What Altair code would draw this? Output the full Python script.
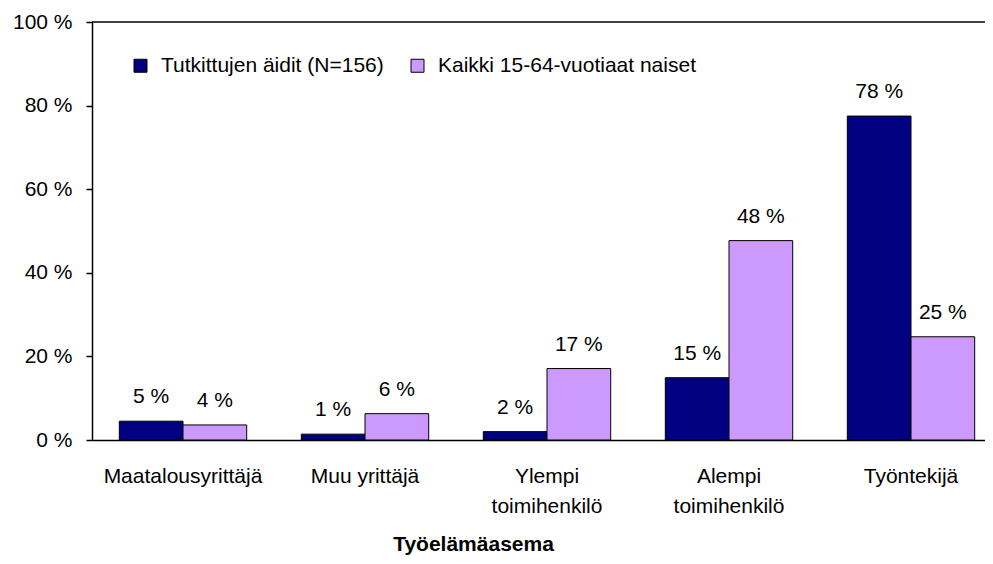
import altair as alt
import pandas as pd

categories = ["Maatalousyrittäjä", "Muu yrittäjä", "Ylempi toimihenkilö",
              "Alempi toimihenkilö", "Työntekijä"]
series = ["Tutkittujen äidit (N=156)", "Kaikki 15-64-vuotiaat naiset"]
mothers = [4.5, 1.4, 2.0, 14.9, 77.5]
all_women = [3.6, 6.3, 17.1, 47.7, 24.7]
y_ticks = [0, 20, 40, 60, 80, 100]
colors = ["#000080", "#CC99FF"]

rows = []
for c, a, b in zip(categories, mothers, all_women):
    rows.append({"category": c, "series": series[0], "value": a})
    rows.append({"category": c, "series": series[1], "value": b})
df = pd.DataFrame(rows)

FONT = "Liberation Sans"
FS = 21

x_enc = alt.X(
    "category:N", sort=categories,
    scale=alt.Scale(range=[0, 910], paddingInner=0.3, paddingOuter=0.15),
    axis=alt.Axis(
        title="Työelämäasema", titleFontWeight="bold", titleFontSize=FS,
        titleFont=FONT, titleColor="black",
        titleX=381, titleY=110, titleAlign="center", titleBaseline="alphabetic",
        labelExpr="indexof(datum.label, 'toimihenkilö') >= 0 ? split(datum.label, ' ') : datum.label",
        labelAngle=0, labelPadding=25, labelLineHeight=30, ticks=False, tickSize=0,
        labelBaseline="top", labelLimit=300, domainWidth=1.5,
    ),
)
xoff_enc = alt.XOffset("series:N", sort=series,
                       scale=alt.Scale(domain=series, paddingInner=0, paddingOuter=0))
y_enc = alt.Y(
    "value:Q",
    scale=alt.Scale(domain=[0, 100], nice=False),
    axis=alt.Axis(values=y_ticks, labelExpr="datum.value + ' %'", grid=False,
                  title=None, tickSize=6, labelPadding=14, domainWidth=1.5,
                  tickWidth=1.5),
)

base = alt.Chart(df)

bars = base.mark_bar(stroke="black", strokeWidth=1).encode(
    x=x_enc, xOffset=xoff_enc, y=y_enc,
    color=alt.Color(
        "series:N", sort=series,
        scale=alt.Scale(domain=series, range=colors),
        legend=alt.Legend(
            title=None, orient="none", legendX=38, legendY=33,
            direction="horizontal", symbolType="square", symbolSize=169,
            symbolStrokeColor="black", symbolStrokeWidth=1, symbolOpacity=1,
            labelFontSize=FS, labelFont=FONT, labelColor="black",
            labelOffset=10, columnPadding=23, labelLimit=400,
        ),
    ),
)

labels = base.transform_calculate(
    label="format(datum.value, '.0f') + ' %'"
).mark_text(baseline="alphabetic", dy=-18, fontSize=FS, font=FONT, color="black").encode(
    x=x_enc, xOffset=xoff_enc, y=y_enc, text="label:N"
)

top_line = alt.Chart(pd.DataFrame({"v": [100]})).mark_rule(
    color="black", strokeWidth=1.5
).encode(y=alt.Y("v:Q"), x=alt.value(0), x2=alt.value(910))

chart = alt.layer(bars, labels, top_line).properties(
    width=893, height=418,
    autosize=alt.AutoSizeParams(type="none"),
    padding={"left": 84, "top": 14, "right": 0, "bottom": 116},
).configure(font=FONT).configure_view(stroke=None).configure_axis(
    domainColor="black", tickColor="black", labelColor="black",
    labelFont=FONT, labelFontSize=FS,
)

chart.save("out.html", embed_options={"renderer": "svg", "actions": False})
